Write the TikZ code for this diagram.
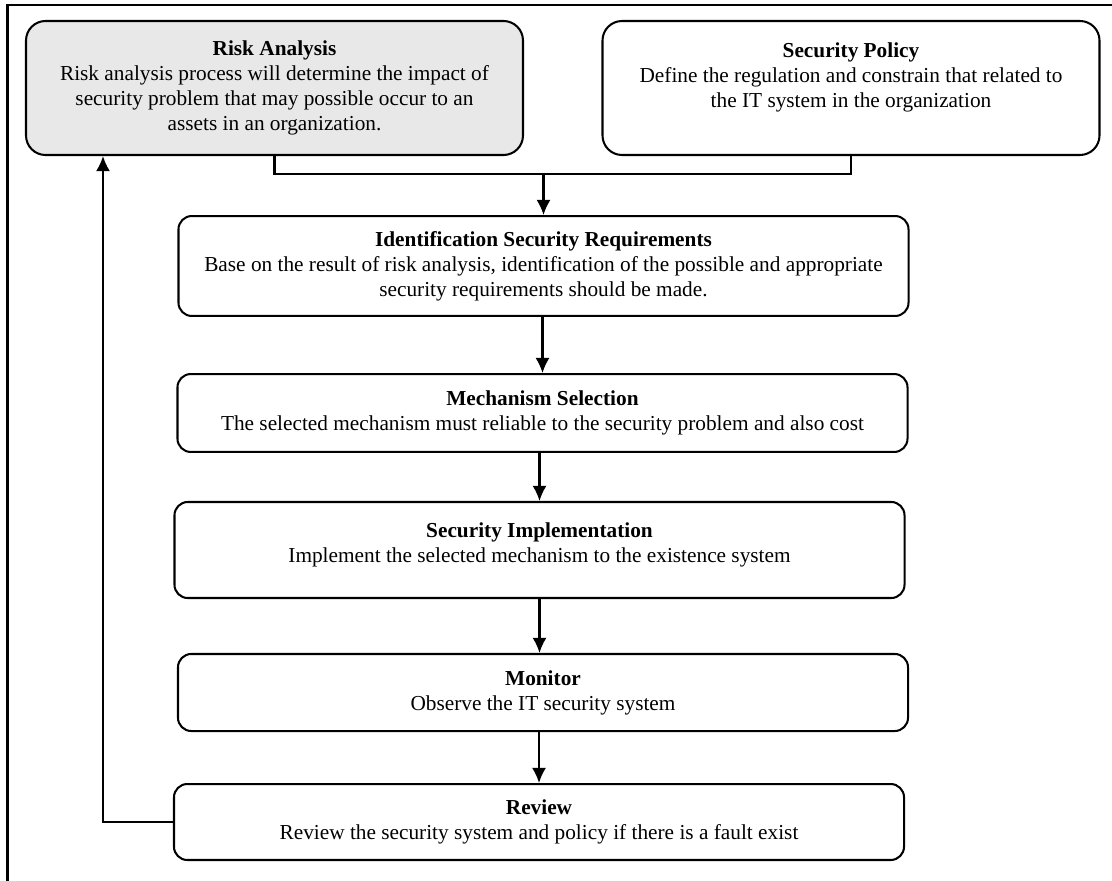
\documentclass[tikz,border=0pt]{standalone}
\usepackage{fontspec}
\setmainfont{Liberation Serif}
\usetikzlibrary{arrows.meta}

\begin{document}
\begin{tikzpicture}[x=0.5634pt, y=-0.5634pt, line width=1.15pt,
        >={Latex[length=8.5pt, width=7.9pt]},
        phase/.style={draw, align=center, inner sep=0pt,
            font=\fontsize{12}{14.1}\selectfont},
        topbox/.style={phase, rounded corners=11pt,
            minimum width=280pt, minimum height=75.5pt},
        stage/.style={phase, rounded corners=7.5pt, minimum width=411.3pt}]

        % Fix the page to the size of the figure.
        \useasboundingbox (0, 0) rectangle (1112, 881);

        % Frame round the figure (top and left side only).
        \draw[line width=1.6pt] (1112, 5) -- (7.5, 5) -- (7.5, 881);

        % The two starting boxes.
        \node[topbox, fill=black!9] (risk) at (274.5, 88)
            {\textbf{Risk Analysis}\\
             Risk analysis process will determine the impact of\\
             security problem that may possible occur to an\\
             assets in an organization.};
        \node[topbox] (policy) at (851, 88)
            {\textbf{Security Policy}\\
             Define the regulation and constrain that related to\\
             the IT system in the organization\\ \mbox{}};

        % The chain of steps.
        \node[stage, minimum height=56.3pt] (ident) at (543.5, 266)
            {\textbf{Identification Security Requirements}\\
             Base on the result of risk analysis, identification of the possible and appropriate\\
             security requirements should be made.};
        \node[stage, minimum height=43.9pt] (mech) at (542.5, 413)
            {\textbf{Mechanism Selection}\\
             The selected mechanism must reliable to the security problem and also cost};
        \node[stage, minimum height=54.1pt] (impl) at (539.5, 550)
            {\textbf{Security Implementation}\\
             Implement the selected mechanism to the existence system\\[-6pt] \mbox{}};
        \node[stage, minimum height=43.4pt] (monitor) at (543, 692.5)
            {\textbf{Monitor}\\
             Observe the IT security system};
        \node[stage, minimum height=42.8pt] (review) at (539, 822)
            {\textbf{Review}\\
             Review the security system and policy if there is a fault exist};

        % Join the two starting boxes and feed the chain.
        \coordinate (merge) at (543.5, 174);
        \draw (risk.south) |- (merge) -| (policy.south);
        \draw[->] (merge) -- (ident.north);

        % Arrows down the chain.
        \draw[->] (mech.north |- ident.south) -- (mech.north);
        \draw[->] (impl.north |- mech.south) -- (impl.north);
        \draw[->] (impl.south) -- (impl.south |- monitor.north);
        \draw[->] (review.north |- monitor.south) -- (review.north);

        % Loop back from the review to the risk analysis.
        \coordinate (loop) at (103, 0);
        \draw[->] (review.west) -| (risk.south -| loop);
    \end{tikzpicture}
\end{document}
